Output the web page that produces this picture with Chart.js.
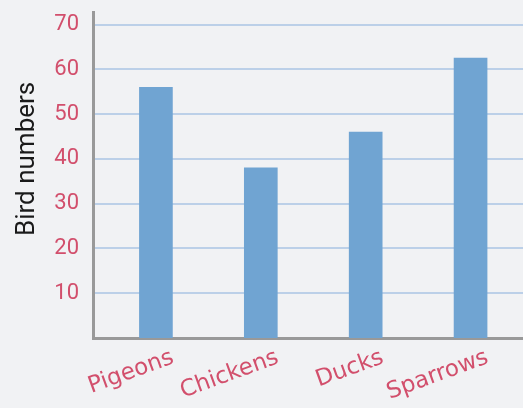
<!DOCTYPE html>
<html>
<head>
<meta charset="utf-8">
<script src="https://cdn.jsdelivr.net/npm/chart.js@4"></script>
<style>
  html, body { margin: 0; padding: 0; background: #f1f2f4; }
  canvas { display: block; }
</style>
</head>
<body>
<canvas id="birdChart" width="523" height="408"></canvas>
<script>
const birdTypes = ["Pigeons", "Chickens", "Ducks", "Sparrows"];
const birdNumbers = [56, 38, 46, 62.5];
const yTickValues = [10, 20, 30, 40, 50, 60, 70];

const pink = "#d24f6c";

const ctx = document.getElementById("birdChart").getContext("2d");

new Chart(ctx, {
    type: "bar",
    data: {
        datasets: [{
            data: birdTypes.map((name, i) => ({ x: i, y: birdNumbers[i] })),
            backgroundColor: "#70a4d2",
            borderWidth: 0,
            barThickness: 33
        }]
    },
    options: {
        responsive: false,
        animation: false,
        devicePixelRatio: 1,
        layout: { padding: { top: 12, right: 0, left: 0, bottom: 0 } },
        plugins: {
            legend: { display: false },
            tooltip: { enabled: false }
        },
        scales: {
            x: {
                type: "linear",
                offset: false,
                min: -0.6,
                max: 3.5,
                afterBuildTicks: function(scale) {
                    scale.ticks = birdTypes.map((name, i) => ({ value: i }));
                },
                afterFit: function(scale) {
                    scale.height = 70;
                    scale.paddingLeft = 0;
                    scale.paddingRight = 0;
                },
                grid: { display: false, drawTicks: false },
                border: { display: true, color: "#999999", width: 3 },
                ticks: {
                    autoSkip: false,
                    minRotation: 20,
                    maxRotation: 20,
                    labelOffset: 17,
                    padding: 6,
                    color: pink,
                    font: { family: "DejaVu Sans", size: 23 },
                    callback: function(value) {
                        return birdTypes[value];
                    }
                }
            },
            y: {
                min: 0,
                max: 72.8,
                afterBuildTicks: function(scale) {
                    scale.ticks = yTickValues.map(v => ({ value: v }));
                },
                afterFit: function(scale) {
                    scale.width = 93;
                    scale.paddingTop = 0;
                    scale.paddingBottom = 0;
                },
                grid: { color: "#bcd0e8", lineWidth: 2, drawTicks: false },
                border: { display: true, color: "#999999", width: 3 },
                ticks: {
                    padding: 14,
                    color: pink,
                    font: { family: "Roboto", size: 22 }
                },
                title: {
                    display: true,
                    text: "     Bird numbers",
                    color: "#1a1a1a",
                    padding: { top: 12, bottom: 0 },
                    font: { family: "Roboto", size: 26 }
                }
            }
        }
    }
});
</script>
</body>
</html>
